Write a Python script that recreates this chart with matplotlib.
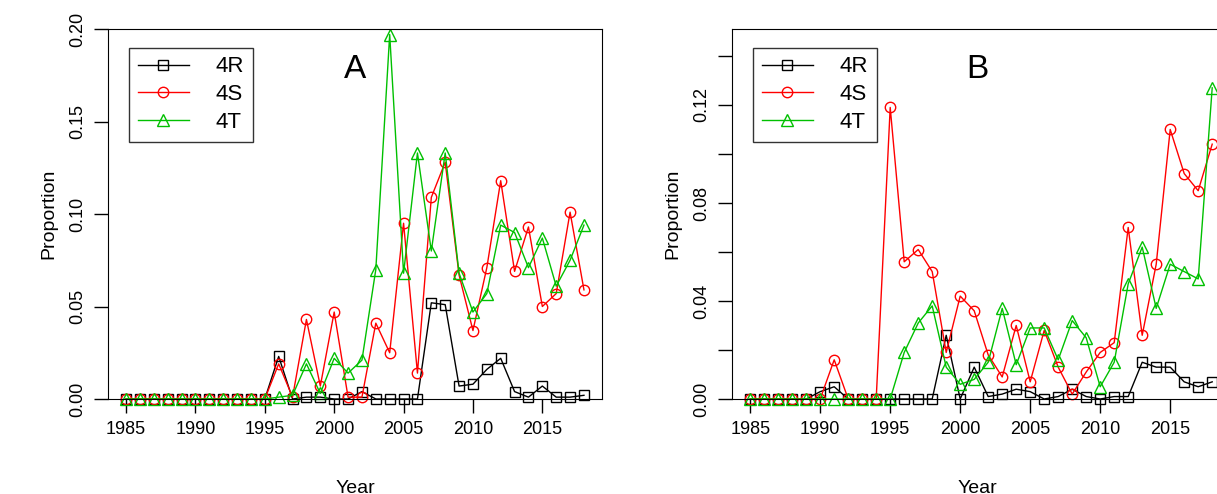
import matplotlib
matplotlib.use("Agg")
import matplotlib.pyplot as plt
import numpy as np

plt.rcParams['font.family'] = ['Liberation Sans', 'DejaVu Sans']

years = list(range(1985, 2019))
z11 = [0]*11
A_4R = z11 + [0.023, 0, 0.001, 0.001, 0, 0, 0.004, 0, 0, 0, 0, 0.052, 0.051, 0.007, 0.008, 0.016, 0.022, 0.004, 0.001, 0.007, 0.001, 0.001, 0.002]
A_4S = z11 + [0.019, 0.001, 0.043, 0.007, 0.047, 0.001, 0.001, 0.041, 0.025, 0.095, 0.014, 0.109, 0.128, 0.067, 0.037, 0.071, 0.118, 0.069, 0.093, 0.050, 0.057, 0.101, 0.059]
A_4T = z11 + [0.001, 0.002, 0.019, 0.003, 0.022, 0.014, 0.021, 0.070, 0.197, 0.068, 0.133, 0.080, 0.133, 0.068, 0.047, 0.057, 0.094, 0.090, 0.071, 0.087, 0.061, 0.075, 0.094]
B_4R = [0, 0, 0, 0, 0, 0.003, 0.005, 0, 0, 0, 0, 0, 0, 0, 0.026, 0, 0.013, 0.001, 0.002, 0.004, 0.003, 0, 0.001, 0.004, 0.001, 0, 0.001, 0.001, 0.015, 0.013, 0.013, 0.007, 0.005, 0.007]
B_4S = [0, 0, 0, 0, 0, 0, 0.016, 0, 0, 0, 0.119, 0.056, 0.061, 0.052, 0.019, 0.042, 0.036, 0.018, 0.009, 0.030, 0.007, 0.028, 0.013, 0.002, 0.011, 0.019, 0.023, 0.070, 0.026, 0.055, 0.110, 0.092, 0.085, 0.104]
B_4T = [0]*11 + [0.019, 0.031, 0.038, 0.013, 0.006, 0.008, 0.015, 0.037, 0.014, 0.029, 0.029, 0.016, 0.032, 0.025, 0.005, 0.015, 0.047, 0.062, 0.037, 0.055, 0.052, 0.049, 0.127]
labels = ['4R', '4S', '4T']
colors = ['black', '#ff0000', '#00c000']
markers = ['s', 'o', '^']

W, H = 1217, 494
fig = plt.figure(figsize=(W/100, H/100), dpi=100)

def panel(rect, data, title, ylim, yticks, xright):
    ax = fig.add_axes(rect)
    for d, lab, c, m in zip(data, labels, colors, markers):
        ax.plot(years, d, color=c, marker=m, markersize=9 if m == '^' else 7.5,
                markerfacecolor='none', markeredgecolor=c, lw=1, label=lab, clip_on=False)
    ax.set_xlim(1983.7, xright)
    ax.set_ylim(*ylim)
    ax.set_xticks(range(1985, 2016, 5))
    ax.set_yticks(yticks)
    ax.set_yticklabels([f"{v:.2f}" for v in yticks], rotation=90, va='center')
    ax.tick_params(labelsize=13, length=10, width=1, pad=6)
    ax.set_xlabel('Year', fontsize=14, labelpad=30)
    ax.set_ylabel('Proportion', fontsize=14, labelpad=8)
    ax.text(0.5, 0.89, title, transform=ax.transAxes, fontsize=24, ha='center', va='center')
    leg = ax.legend(loc='upper left', fontsize=16, frameon=True, fancybox=False,
                    edgecolor='black', borderpad=0.4, handlelength=2.3, handletextpad=1.2,
                    labelspacing=0.3, bbox_to_anchor=(0.02, 0.98))
    leg.get_frame().set_linewidth(1)
    return ax

panel([108/W, 1-399/H, 494/W, 370/H], [A_4R, A_4S, A_4T], 'A', (0, 0.2), [0, 0.05, 0.10, 0.15, 0.20], 2019.3)
ax = panel([732/W, 1-399/H, 490/W, 370/H], [B_4R, B_4S, B_4T], 'B', (0, 0.151), [0, 0.04, 0.08, 0.12], 2018.7)
ax.set_yticks([0.02, 0.06, 0.10, 0.14], minor=True)
ax.tick_params(which='minor', length=10, width=1)

fig.savefig('out.png', dpi=100)
